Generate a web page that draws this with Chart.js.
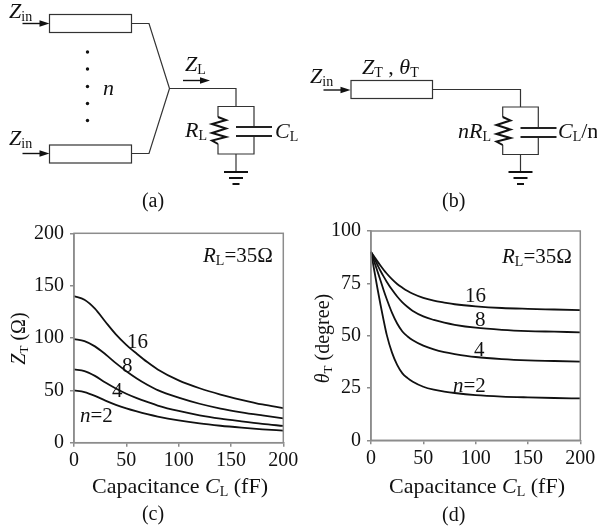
<!DOCTYPE html>
<html>
<head>
<meta charset="utf-8">
<title>Z_T and theta_T against load capacitance</title>
<script src="https://cdn.jsdelivr.net/npm/chart.js@4"></script>
<style>
  html, body { margin: 0; padding: 0; background: #fff; overflow: hidden; }
  #page { position: relative; width: 597px; height: 531px; }
  canvas { position: absolute; }
  svg { position: absolute; left: 0; top: 0; pointer-events: none; }
  svg text { font-family: "Liberation Serif", serif; font-size: 20px; fill: #111; }
  svg .wire { fill: none; stroke: #333; stroke-width: 1.2; }
  svg .thick { fill: none; stroke: #111; stroke-width: 2; }
  svg .cap { fill: none; stroke: #222; stroke-width: 1.8; }
  svg .head { fill: #111; stroke: none; }
  svg .sub { font-size: 13px; }
  svg .i { font-style: italic; }
  svg .lab { font-size: 22px; }
  svg .lab .sub { font-size: 14px; }
  svg .note { font-size: 21px; }
  svg .note .sub { font-size: 14px; }
</style>
</head>
<body>
<div id="page">
  <div style="position:absolute;left:0;top:222px;width:300px;height:253px"><canvas id="chartZ"></canvas></div>
  <div style="position:absolute;left:297px;top:220px;width:300px;height:253px"><canvas id="chartTheta"></canvas></div>

  <svg width="597" height="531" viewBox="0 0 597 531">
    <defs>
      <g id="arrow">
        <line x1="0" y1="0" x2="20" y2="0" stroke="#111" stroke-width="1.4"/>
        <polygon class="head" points="17,-3.2 27,0 17,3.2"/>
      </g>
      <g id="ground">
        <line x1="-12" y1="0" x2="12" y2="0" stroke="#111" stroke-width="2"/>
        <line x1="-7" y1="6" x2="7" y2="6" stroke="#111" stroke-width="2"/>
        <line x1="-3.5" y1="12" x2="3.5" y2="12" stroke="#111" stroke-width="2"/>
      </g>
    </defs>

    <!-- (a) -->
    <rect class="wire" x="49.5" y="14.5" width="82" height="18"/>
    <rect class="wire" x="49.5" y="145" width="82" height="18"/>
    <polyline class="wire" points="131.5,23.5 149,23.5 169.5,88.5 149,153.5 131.5,153.5"/>
    <polyline class="wire" points="169.5,88.5 236,88.5 236,106.5"/>
    <polyline class="wire" points="218,117 218,106.5 254,106.5 254,127"/>
    <polyline class="wire" points="218,144 218,154 254,154 254,136"/>
    <polyline class="wire" points="236,154 236,172"/>
    <polyline class="thick" points="218,117 226,120 212,124 226,128.5 212,133 226,137 212,140.5 218,144"/>
    <line class="cap" x1="236" y1="127" x2="272" y2="127"/>
    <line class="cap" x1="236" y1="136" x2="272" y2="136"/>
    <use href="#ground" x="236" y="172"/>
    <use href="#arrow" x="22.5" y="23.5"/>
    <use href="#arrow" x="22.5" y="153.5"/>
    <use href="#arrow" x="183" y="80.5"/>
    <g fill="#111">
      <circle cx="87.5" cy="52" r="1.7"/><circle cx="87.5" cy="69" r="1.7"/><circle cx="87.5" cy="86.5" r="1.7"/>
      <circle cx="87.5" cy="103.5" r="1.7"/><circle cx="87.5" cy="120.5" r="1.7"/>
    </g>
    <text x="103" y="95" class="lab i">n</text>
    <text x="9" y="18" class="lab"><tspan class="i">Z</tspan><tspan class="sub" dy="3">in</tspan></text>
    <text x="9" y="145" class="lab"><tspan class="i">Z</tspan><tspan class="sub" dy="3">in</tspan></text>
    <text x="185" y="71" class="lab"><tspan class="i">Z</tspan><tspan class="sub" dy="3">L</tspan></text>
    <text x="185" y="137" class="lab"><tspan class="i">R</tspan><tspan class="sub" dy="3">L</tspan></text>
    <text x="275" y="138" class="lab"><tspan class="i">C</tspan><tspan class="sub" dy="3">L</tspan></text>
    <text x="153" y="207" text-anchor="middle">(a)</text>

    <!-- (b) -->
    <rect class="wire" x="351" y="80.5" width="81.5" height="18"/>
    <polyline class="wire" points="432.5,89.5 520.5,89.5 520.5,107"/>
    <polyline class="wire" points="502.7,117 502.7,107 538.3,107 538.3,128"/>
    <polyline class="wire" points="502.7,145 502.7,154.5 538.3,154.5 538.3,137"/>
    <polyline class="wire" points="520.5,154.5 520.5,172"/>
    <polyline class="thick" points="502.7,117 510.5,120.5 496.5,125 510.5,129.5 496.5,134 510.5,138 496.5,141.5 502.7,145"/>
    <line class="cap" x1="520.5" y1="128" x2="556.5" y2="128"/>
    <line class="cap" x1="520.5" y1="137" x2="556.5" y2="137"/>
    <use href="#ground" x="520.5" y="172"/>
    <use href="#arrow" x="323.5" y="90"/>
    <text x="310" y="82.5" class="lab"><tspan class="i">Z</tspan><tspan class="sub" dy="3">in</tspan></text>
    <text x="362" y="74" class="lab"><tspan class="i">Z</tspan><tspan class="sub" dy="3">T</tspan><tspan dy="-3"> , </tspan><tspan class="i">θ</tspan><tspan class="sub" dy="3">T</tspan></text>
    <text x="458" y="137.5" class="lab"><tspan class="i">nR</tspan><tspan class="sub" dy="3">L</tspan></text>
    <text x="558" y="138" class="lab"><tspan class="i">C</tspan><tspan class="sub" dy="3">L</tspan><tspan dy="-3">/n</tspan></text>
    <text x="453.7" y="207" text-anchor="middle">(b)</text>

    <!-- labels of (c) -->
    <text x="203" y="262" class="note"><tspan class="i">R</tspan><tspan class="sub" dy="3">L</tspan><tspan dy="-3">=35Ω</tspan></text>
    <text x="127" y="348" class="note">16</text>
    <text x="122" y="372" class="note">8</text>
    <text x="112" y="397" class="note">4</text>
    <text x="80" y="422" class="note"><tspan class="i">n</tspan>=2</text>
    <text x="25" y="338.5" text-anchor="middle" transform="rotate(-90 25 338.5)"><tspan class="i">Z</tspan><tspan class="sub" dy="3">T</tspan><tspan dy="-3"> (Ω)</tspan></text>
    <text x="92" y="493" class="lab">Capacitance <tspan class="i">C</tspan><tspan class="sub" dy="3">L</tspan><tspan dy="-3"> (fF)</tspan></text>
    <text x="153" y="520" text-anchor="middle">(c)</text>

    <!-- labels of (d) -->
    <text x="502" y="263" class="note"><tspan class="i">R</tspan><tspan class="sub" dy="3">L</tspan><tspan dy="-3">=35Ω</tspan></text>
    <text x="465" y="302" class="note">16</text>
    <text x="475" y="326" class="note">8</text>
    <text x="474" y="356" class="note">4</text>
    <text x="453" y="392" class="note"><tspan class="i">n</tspan>=2</text>
    <text x="328.5" y="338.5" text-anchor="middle" transform="rotate(-90 328.5 338.5)"><tspan class="i">θ</tspan><tspan class="sub" dy="3">T</tspan><tspan dy="-3"> (degree)</tspan></text>
    <text x="389" y="493" class="lab">Capacitance <tspan class="i">C</tspan><tspan class="sub" dy="3">L</tspan><tspan dy="-3"> (fF)</tspan></text>
    <text x="453.7" y="521" text-anchor="middle">(d)</text>
  </svg>
</div>

<script>
// capacitance in fF
const capZ = [0, 10, 20, 30, 40, 50, 60, 70, 80, 100, 120, 140, 160, 180, 200];
const z2 = [50, 48.4, 44.8, 40.2, 36.2, 32.8, 29.9, 27.3, 25, 21.3, 18.4, 16.2, 14.4, 12.8, 11.5];
const z4 = [70, 68.4, 63.8, 57.5, 51.8, 46.8, 42.6, 38.9, 35.5, 30.3, 26.2, 23, 20.4, 18, 16];
const z8 = [99, 97, 92, 84.5, 76, 68.3, 61.4, 55.4, 50.2, 43, 37.2, 32.6, 29, 26, 23.2];
const z16 = [140, 136.5, 128, 115.5, 103.5, 93.5, 85, 77, 70, 59.5, 52, 46, 41, 36.5, 33];

const capTheta = [0, 3, 6, 9, 12, 15, 20, 25, 30, 35, 40, 50, 60, 70, 80, 100, 125, 150, 175, 200];
const theta2 = [90, 81.5, 73, 65, 57.5, 50.5, 42, 36, 32, 29.7, 28, 25.6, 24.2, 23.3, 22.6, 21.6, 20.9, 20.5, 20.2, 20];
const theta4 = [90, 85.5, 81, 76.5, 71.8, 67.5, 61, 55.8, 52, 49.6, 47.8, 45.2, 43.4, 42.1, 41.2, 39.8, 38.8, 38.2, 37.9, 37.6];
const theta8 = [90, 87, 84, 81, 78.3, 75.8, 72, 68.7, 65.9, 63.7, 61.8, 59.2, 57.5, 56.2, 55.2, 53.8, 52.8, 52.2, 51.9, 51.6];
const theta16 = [90, 87.8, 85.6, 83.5, 81.5, 79.7, 77, 74.7, 72.9, 71.3, 70, 68, 66.7, 65.8, 65, 64, 63.2, 62.8, 62.5, 62.2];

const axisGray = '#8c8c8c';
const inkBlack = '#111';

function toPoints(xs, ys) {
  return xs.map((x, i) => ({ x: x, y: ys[i] }));
}

function curve(xs, ys) {
  return {
    data: toPoints(xs, ys),
    borderColor: inkBlack,
    borderWidth: 1.8,
    pointRadius: 0,
    cubicInterpolationMode: 'monotone',
    clip: false,
  };
}

// top and right sides of the plot box
const plotBox = {
  id: 'plotBox',
  afterDraw(chart) {
    const { ctx, chartArea: a } = chart;
    ctx.save();
    ctx.strokeStyle = axisGray;
    ctx.lineWidth = 1.5;
    ctx.strokeRect(a.left, a.top, a.right - a.left, a.bottom - a.top);
    ctx.restore();
  },
};

function makeChart(id, datasets, yMax, yStep, topPad, xAxisHeight) {
  const tickFont = { family: '"Liberation Serif", serif', size: 20 };
  return new Chart(document.getElementById(id), {
    type: 'line',
    data: { datasets: datasets },
    plugins: [plotBox],
    options: {
      responsive: true,
      maintainAspectRatio: false,
      animation: false,
      layout: { padding: { top: topPad, right: 16.7, left: 0, bottom: 0 } },
      plugins: { legend: { display: false }, tooltip: { enabled: false } },
      scales: {
        x: {
          type: 'linear',
          min: 0,
          max: 200,
          ticks: { stepSize: 50, color: inkBlack, font: tickFont, padding: 2, maxRotation: 0 },
          grid: { drawOnChartArea: false, color: axisGray, tickLength: 4, lineWidth: 1.5 },
          border: { color: axisGray, width: 1.5 },
          afterFit(scale) {
            scale.height = xAxisHeight;
            scale.paddingLeft = 0;
            scale.paddingRight = 0;
          },
        },
        y: {
          min: 0,
          max: yMax,
          ticks: { stepSize: yStep, color: inkBlack, font: tickFont, padding: 6 },
          grid: { drawOnChartArea: false, color: axisGray, tickLength: 4, lineWidth: 1.5 },
          border: { color: axisGray, width: 1.5 },
          afterFit(scale) {
            scale.width = 74;
            scale.paddingTop = 0;
            scale.paddingBottom = 0;
          },
        },
      },
    },
  });
}

makeChart('chartZ', [curve(capZ, z2), curve(capZ, z4), curve(capZ, z8), curve(capZ, z16)], 200, 50, 11.3, 32.3);
makeChart('chartTheta', [curve(capTheta, theta2), curve(capTheta, theta4), curve(capTheta, theta8), curve(capTheta, theta16)], 100, 25, 11, 32.7);
</script>
</body>
</html>
